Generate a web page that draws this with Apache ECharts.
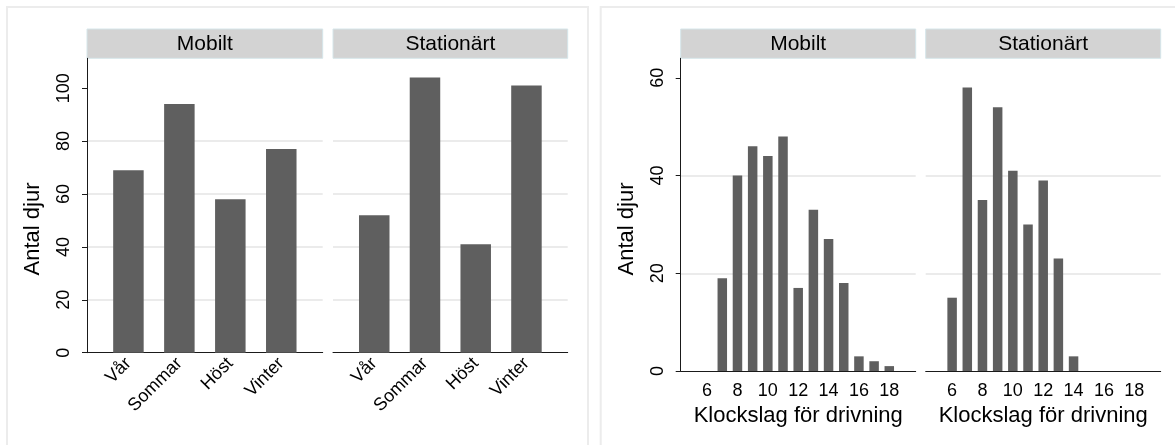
<!DOCTYPE html>
<html>
<head>
<meta charset="utf-8">
<title>Antal djur</title>
<script src="https://cdn.jsdelivr.net/npm/echarts@6/dist/echarts.min.js"></script>
<style>
  html, body { margin: 0; padding: 0; background: #ffffff; }
  #chart { width: 1175px; height: 445px; }
</style>
</head>
<body>
<div id="chart"></div>
<script>
// Counts per season, split by driving type
const seasons = ['Vår', 'Sommar', 'Höst', 'Vinter'];
const seasonMobilt = [69, 94, 58, 77];
const seasonStationart = [52, 104, 41, 101];

// Counts per hour of the drive
const hours = [6, 7, 8, 9, 10, 11, 12, 13, 14, 15, 16, 17, 18];
const hourMobilt = [0, 19, 40, 46, 44, 48, 17, 33, 27, 18, 3, 2, 1];
const hourStationart = [15, 58, 35, 54, 41, 30, 39, 23, 3, 0, 0, 0, 0];

// Tick labels
const seasonTicks = [0, 20, 40, 60, 80, 100];
const hourTicksY = [0, 20, 40, 60];
const hourTicksX = [6, 8, 10, 12, 14, 16, 18];

const panelTitles = ['Mobilt', 'Stationärt'];
const yTitle = 'Antal djur';
const hourTitle = 'Klockslag för drivning';

const FONT = '"Liberation Sans", Arial, Helvetica, sans-serif';
const BAR = '#5f5f5f';
const GRID_LINE = '#e4e4e4';
const AXIS = '#1a1a1a';

const chart = echarts.init(document.getElementById('chart'), null, { renderer: 'canvas' });

// Panel geometry
const leftTop = 58.3, leftBottom = 352.7;
const rightTop = 58.3, rightBottom = 371;
const panels = [
  { left: 87, width: 235.7, top: leftTop, height: leftBottom - leftTop },
  { left: 333, width: 234.7, top: leftTop, height: leftBottom - leftTop },
  { left: 680.7, width: 235, top: rightTop, height: rightBottom - rightTop },
  { left: 925.7, width: 235, top: rightTop, height: rightBottom - rightTop }
];

const grids = panels.map(p => ({ left: p.left, top: p.top, width: p.width, height: p.height, containLabel: false }));

function seasonX(gridIndex) {
  return {
    type: 'value', gridIndex, min: -0.813, max: 3.813,
    axisLine: { show: true, onZero: false, lineStyle: { color: AXIS, width: 1 } },
    axisTick: { show: false },
    splitLine: { show: false },
    axisLabel: {
      customValues: [0, 1, 2, 3],
      formatter: v => seasons[Math.round(v)],
      rotate: 45, margin: 8,
      fontFamily: FONT, fontSize: 18, color: '#000'
    }
  };
}

function hourX(gridIndex) {
  return {
    type: 'value', gridIndex, min: 4.26, max: 19.74,
    axisLine: { show: true, onZero: false, lineStyle: { color: AXIS, width: 1 } },
    axisTick: { show: false },
    splitLine: { show: false },
    axisLabel: {
      customValues: hourTicksX,
      margin: 11,
      fontFamily: FONT, fontSize: 18, color: '#000'
    },
    name: hourTitle, nameLocation: 'middle', nameGap: 32,
    nameTextStyle: { fontFamily: FONT, fontSize: 22, color: '#000' }
  };
}

function yAxisFor(gridIndex, max, ticks, showAxis) {
  return {
    type: 'value', gridIndex, min: 0, max,
    axisLine: { show: showAxis, onZero: false, lineStyle: { color: AXIS, width: 1 } },
    axisTick: { show: showAxis, customValues: ticks, length: 5, lineStyle: { color: AXIS } },
    axisLabel: {
      show: showAxis, customValues: ticks, rotate: 90, margin: 14,
      fontFamily: FONT, fontSize: 18, color: '#000'
    },
    splitLine: { show: true, showMinLine: false, showMaxLine: false, lineStyle: { color: GRID_LINE, width: 1.5 } },
    interval: 20
  };
}

const xAxes = [seasonX(0), seasonX(1), hourX(2), hourX(3)];
const yAxes = [
  yAxisFor(0, 111.3, seasonTicks, true),
  yAxisFor(1, 111.3, seasonTicks, false),
  yAxisFor(2, 64, hourTicksY, true),
  yAxisFor(3, 64, hourTicksY, false)
];

function barSeries(idx, data, width) {
  return {
    type: 'bar', xAxisIndex: idx, yAxisIndex: idx,
    data, barWidth: width,
    itemStyle: { color: BAR },
    silent: true, animation: false
  };
}

const series = [
  barSeries(0, seasonMobilt.map((v, i) => [i, v]), 30.5),
  barSeries(1, seasonStationart.map((v, i) => [i, v]), 30.5),
  barSeries(2, hours.map((h, i) => [h, hourMobilt[i]]), 9.5),
  barSeries(3, hours.map((h, i) => [h, hourStationart[i]]), 9.5)
];

// Outer frames, strip headers and y-axis titles
const graphics = [
  { type: 'rect', z: -10, shape: { x: 7, y: 7, width: 581, height: 450 },
    style: { fill: '#fff', stroke: '#ececec', lineWidth: 2 } },
  { type: 'rect', z: -10, shape: { x: 600.7, y: 7, width: 590, height: 450 },
    style: { fill: '#fff', stroke: '#ececec', lineWidth: 2 } }
];
panels.forEach((p, i) => {
  graphics.push({
    type: 'rect', shape: { x: p.left, y: 29, width: p.width, height: 29.3 },
    style: { fill: '#d3d3d3', stroke: '#d6e6ea', lineWidth: 1 }
  });
  graphics.push({
    type: 'text', x: p.left + p.width / 2, y: 43.8,
    style: { text: panelTitles[i % 2], font: '21px ' + FONT, fill: '#000',
             textAlign: 'center', textVerticalAlign: 'middle' }
  });
});
[[33, 229], [626.7, 229]].forEach(([x, y]) => {
  graphics.push({
    type: 'text', x, y, rotation: Math.PI / 2,
    style: { text: yTitle, font: '22px ' + FONT, fill: '#000',
             textAlign: 'center', textVerticalAlign: 'middle' }
  });
});

chart.setOption({
  backgroundColor: '#ffffff',
  animation: false,
  grid: grids,
  xAxis: xAxes,
  yAxis: yAxes,
  series,
  graphic: graphics
});
</script>
</body>
</html>
